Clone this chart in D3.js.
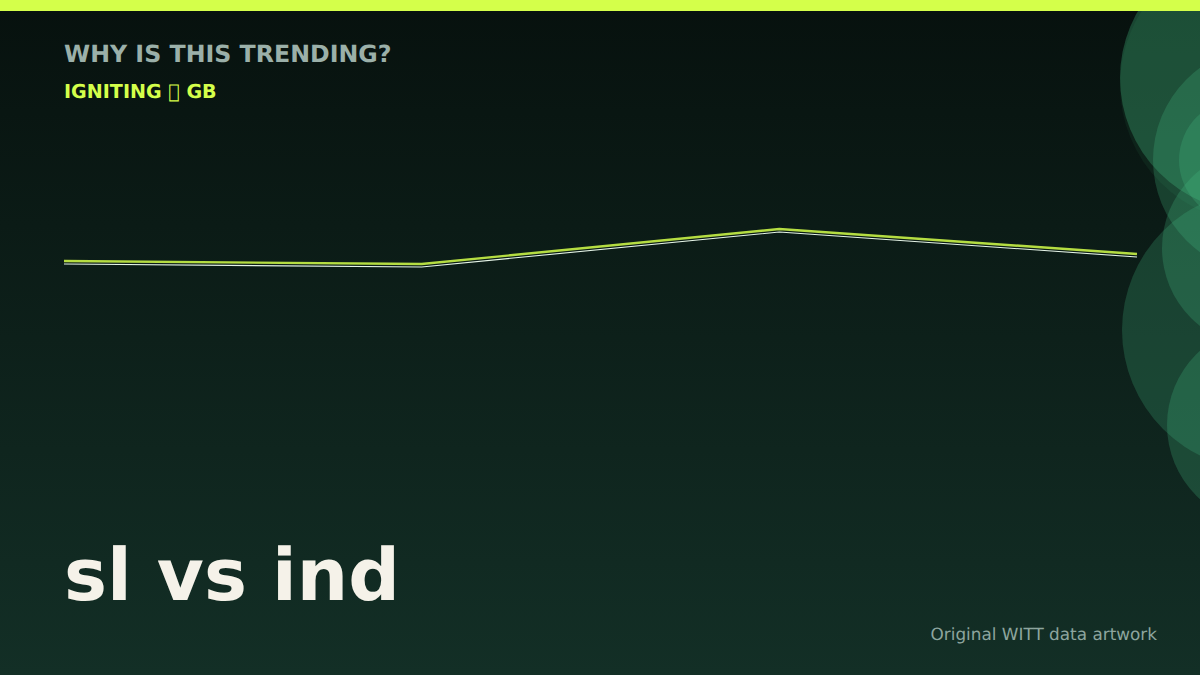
<!DOCTYPE html>
<html>
<head>
<meta charset="utf-8">
<script src="https://cdnjs.cloudflare.com/ajax/libs/d3/7.8.5/d3.min.js"></script>
<style>
  html, body { margin: 0; padding: 0; background: #07110e; overflow: hidden; }
  text { font-family: "DejaVu Sans", sans-serif; text-rendering: geometricPrecision; }
</style>
</head>
<body>
<script>
// Data
const periods = ["t1", "t2", "t3", "t4"];
const interest = [68.5, 67.75, 76.5, 70.25];
const interestEcho = [67.75, 67, 75.75, 69.5];

// Decorative circles on the right edge: [cx, cy, r, opacity]
const blobs = [
  [1254, 78, 134, 0.3],
  [1258, 85, 138, 0.07],
  [1267, 160, 114, 0.24],
  [1240, 160, 61, 0.24],
  [1261, 248, 99, 0.24],
  [1262, 330, 140, 0.23],
  [1267, 425, 100, 0.24]
];

const width = 1200, height = 675;

const svg = d3.select("body")
  .append("svg")
  .attr("width", width)
  .attr("height", height)
  .style("display", "block");

// Background gradient
const defs = svg.append("defs");
const bg = defs.append("linearGradient")
  .attr("id", "bg")
  .attr("x1", 0).attr("y1", 0)
  .attr("x2", 0).attr("y2", 1);
bg.append("stop").attr("offset", "0%").attr("stop-color", "#07110e");
bg.append("stop").attr("offset", "100%").attr("stop-color", "#132f26");

svg.append("rect")
  .attr("width", width)
  .attr("height", height)
  .attr("fill", "url(#bg)");

// Circles
svg.selectAll("circle.blob")
  .data(blobs)
  .enter()
  .append("circle")
  .attr("class", "blob")
  .attr("cx", d => d[0])
  .attr("cy", d => d[1])
  .attr("r", d => d[2])
  .attr("fill", "#47c085")
  .attr("fill-opacity", d => d[3]);

// Top band
svg.append("rect")
  .attr("width", width)
  .attr("height", 11)
  .attr("fill", "#d4ff4a");

// Scales
const xScale = d3.scalePoint()
  .domain(periods)
  .range([64, 1137]);

const yScale = d3.scaleLinear()
  .domain([0, 100])
  .range([535, 135]);

const line = d3.line()
  .x((d, i) => xScale(periods[i]))
  .y(d => yScale(d));

svg.append("path")
  .datum(interest)
  .attr("d", line)
  .attr("fill", "none")
  .attr("stroke", "#d4ff4a")
  .attr("stroke-opacity", 0.85)
  .attr("stroke-width", 2.4);

svg.append("path")
  .datum(interestEcho)
  .attr("d", line)
  .attr("fill", "none")
  .attr("stroke", "#e6f5e8")
  .attr("stroke-width", 1.1);

// Text
svg.append("text")
  .text("WHY IS THIS TRENDING?")
  .attr("x", 64)
  .attr("y", 62)
  .attr("font-size", 23.7)
  .attr("font-weight", "bold")
  .attr("fill", "#9bb0a9");

svg.append("text")
  .text("IGNITING \uE000 GB")
  .attr("x", 64)
  .attr("y", 98)
  .attr("font-size", 19.1)
  .attr("font-weight", "bold")
  .attr("fill", "#d4ff4a");

svg.append("text")
  .text("sl vs ind")
  .attr("x", 64)
  .attr("y", 600)
  .attr("font-size", 72.2)
  .attr("font-weight", "bold")
  .attr("fill", "#f5f2e9");

svg.append("text")
  .text("Original WITT data artwork")
  .attr("x", 1157)
  .attr("y", 640)
  .attr("font-size", 16.85)
  .attr("text-anchor", "end")
  .attr("fill", "#8da59e");
</script>
</body>
</html>
